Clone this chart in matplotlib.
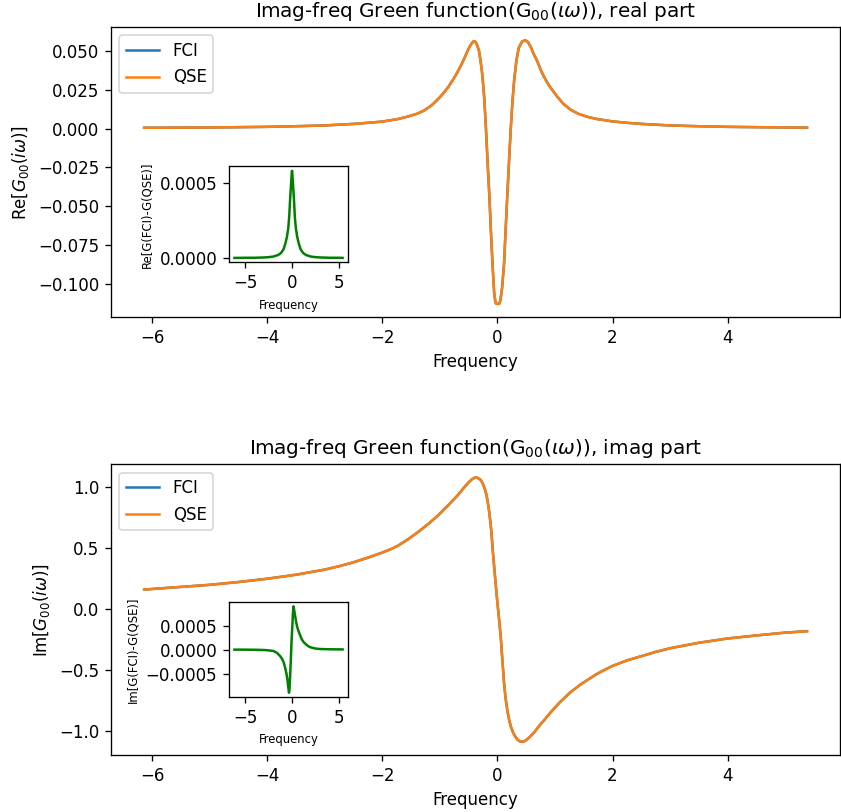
import matplotlib
matplotlib.use("Agg")
import matplotlib.pyplot as plt

# imaginary-frequency grid points and G00 values (FCI and QSE coincide on this scale)
freq_re = [-6.14, -5.5, -5.0, -4.5, -4.0, -3.5, -3.0, -2.75, -2.5, -2.25, -2.0, -1.85,
           -1.72, -1.55, -1.4, -1.28, -1.15, -1.05, -0.95, -0.86, -0.78, -0.7, -0.63,
           -0.57, -0.52, -0.48, -0.44, -0.41, -0.38, -0.35, -0.32, -0.295, -0.27, -0.25,
           -0.23, -0.2, -0.17, -0.14, -0.115, -0.085, -0.057, -0.035, -0.02,
           0.03, 0.05, 0.08, 0.115, 0.14, 0.17, 0.2, 0.23, 0.26, 0.29, 0.33, 0.37, 0.43,
           0.49, 0.53, 0.58, 0.63, 0.69, 0.75, 0.8, 0.86, 0.92, 1.0, 1.07, 1.15, 1.27,
           1.4, 1.55, 1.72, 2.0, 2.25, 2.5, 2.75, 3.0, 3.5, 4.0, 4.5, 5.0, 5.38]
fci_re = [0.0005, 0.0006, 0.0007, 0.0009, 0.0011, 0.0015, 0.002, 0.0025, 0.003, 0.0037,
          0.0045, 0.0054, 0.0062, 0.0078, 0.0095, 0.0115, 0.0148, 0.0183, 0.0223, 0.0265,
          0.031, 0.036, 0.041, 0.0457, 0.050, 0.053, 0.0553, 0.0564, 0.0558, 0.0535,
          0.050, 0.044, 0.037, 0.029, 0.020, 0.0, -0.0226, -0.044, -0.065, -0.088,
          -0.106, -0.112, -0.113,
          -0.113, -0.111, -0.103, -0.087, -0.067, -0.044, -0.022, -0.001, 0.017, 0.031,
          0.044, 0.052, 0.0562, 0.0569, 0.0558, 0.0525, 0.048, 0.0436, 0.038, 0.034,
          0.030, 0.0265, 0.0225, 0.0192, 0.0158, 0.0122, 0.0096, 0.0077, 0.0062, 0.0046,
          0.0037, 0.003, 0.0025, 0.002, 0.0015, 0.0011, 0.0009, 0.0007, 0.0006]
qse_re = list(fci_re)

freq_im = [-6.14, -5.5, -5.0, -4.5, -4.0, -3.5, -3.0, -2.75, -2.5, -2.25, -2.0, -1.85,
           -1.72, -1.55, -1.38, -1.2, -1.03, -0.94, -0.85, -0.77, -0.69, -0.62, -0.55,
           -0.49, -0.44, -0.39, -0.355, -0.32, -0.29, -0.26, -0.23, -0.2, -0.17, -0.145,
           -0.12, -0.1, -0.086, -0.06, -0.04, -0.015, 0.01, 0.035, 0.057, 0.085, 0.115,
           0.14, 0.17, 0.2, 0.23, 0.27, 0.31, 0.355, 0.40, 0.44, 0.48, 0.55, 0.63, 0.72,
           0.82, 0.92, 1.08, 1.26, 1.45, 1.72, 1.85, 2.0, 2.25, 2.5, 2.75, 3.0, 3.5, 4.0,
           4.5, 5.0, 5.38]
fci_im = [0.156, 0.178, 0.195, 0.218, 0.245, 0.278, 0.32, 0.348, 0.38, 0.418, 0.46, 0.488,
          0.518, 0.57, 0.628, 0.695, 0.765, 0.808, 0.85, 0.89, 0.93, 0.97, 1.01, 1.04,
          1.062, 1.075, 1.074, 1.065, 1.055, 1.03, 0.995, 0.95, 0.88, 0.80, 0.70, 0.60,
          0.50, 0.36, 0.25, 0.12, 0.0, -0.12, -0.23, -0.42, -0.61, -0.73, -0.83, -0.905,
          -0.963, -1.015, -1.05, -1.078, -1.09, -1.092, -1.085, -1.058, -1.02, -0.965,
          -0.91, -0.853, -0.77, -0.689, -0.62, -0.538, -0.505, -0.47, -0.425, -0.39,
          -0.355, -0.325, -0.28, -0.245, -0.22, -0.197, -0.185]
qse_im = list(fci_im)

# FCI - QSE differences
freq_dre = [-6.14, -5.0, -4.0, -3.0, -2.5, -2.0, -1.5, -1.25, -1.1, -0.9, -0.7, -0.55,
            -0.4, -0.3, -0.2, -0.1, -0.03, 0.0, 0.05, 0.1, 0.2, 0.3, 0.4, 0.55, 0.7, 0.9,
            1.1, 1.25, 1.5, 2.0, 2.5, 3.0, 4.0, 5.0, 5.38]
diff_re = [0.000001, 0.000002, 0.000002, 0.000004, 0.000006, 0.00001, 0.00002, 0.00003,
           0.00004, 0.00006, 0.0001, 0.00014, 0.0002, 0.00028, 0.0004, 0.0005, 0.00057,
           0.00058, 0.00054, 0.00049, 0.00039, 0.00027, 0.0002, 0.00014, 0.0001, 0.00006,
           0.00004, 0.00003, 0.00002, 0.00001, 0.000006, 0.000004, 0.000002, 0.000002,
           0.000001]

freq_dim = [-6.14, -5.0, -4.0, -3.0, -2.5, -2.0, -1.6, -1.26, -1.05, -0.89, -0.75, -0.6,
            -0.5, -0.44, -0.38, -0.33, -0.28, -0.22, -0.15, -0.1, -0.05, 0.0, 0.04, 0.09,
            0.15, 0.21, 0.3, 0.41, 0.52, 0.67, 0.85, 1.04, 1.25, 1.52, 1.8, 2.07, 2.5,
            3.0, 4.0, 5.38]
diff_im = [-0.000002, -0.000003, -0.000005, -0.00001, -0.000018, -0.00003, -0.00007,
           -0.00014, -0.0002, -0.00027, -0.00037, -0.0005, -0.00062, -0.00072, -0.00082,
           -0.0009, -0.00085, -0.0006, -0.0003, -0.00005, 0.0002, 0.00038, 0.00053,
           0.00075, 0.0009, 0.00084, 0.00073, 0.0006, 0.00049, 0.00039, 0.0003, 0.00021,
           0.00015, 0.0001, 0.00006, 0.00004, 0.00002, 0.00001, 0.000005, 0.000002]

fig = plt.figure(figsize=(841 / 120, 812 / 120), dpi=120)

ax1 = fig.add_axes([0.132, 0.6096, 0.867, 0.357])
ax1.plot(freq_re, fci_re, label="FCI")
ax1.plot(freq_re, qse_re, label="QSE")
ax1.set_title(r"Imag-freq Green function(G$_{00}(\iota\omega)$), real part")
ax1.set_xlabel("Frequency")
ax1.set_ylabel(r"Re[$G_{00}(i\omega)$]")
ax1.legend(loc="upper left")

ins1 = fig.add_axes([0.2723, 0.677, 0.1415, 0.118])
ins1.plot(freq_dre, diff_re, color="green")
ins1.set_yticks([0.0, 0.0005])
ins1.set_xlabel("Frequency", fontsize=7)
ins1.set_ylabel("Re[G(FCI)-G(QSE)]", fontsize=7)

ax2 = fig.add_axes([0.132, 0.0702, 0.867, 0.358])
ax2.plot(freq_im, fci_im, label="FCI")
ax2.plot(freq_im, qse_im, label="QSE")
ax2.set_title(r"Imag-freq Green function(G$_{00}(\iota\omega)$), imag part")
ax2.set_xlabel("Frequency")
ax2.set_ylabel(r"Im[$G_{00}(i\omega)$]")
ax2.legend(loc="upper left")

ins2 = fig.add_axes([0.2723, 0.1416, 0.1415, 0.117])
ins2.plot(freq_dim, diff_im, color="green")
ins2.set_yticks([-0.0005, 0.0, 0.0005])
ins2.set_xlabel("Frequency", fontsize=7)
ins2.set_ylabel("Im[G(FCI)-G(QSE)]", fontsize=7)

fig.savefig("out.png", dpi=120)
